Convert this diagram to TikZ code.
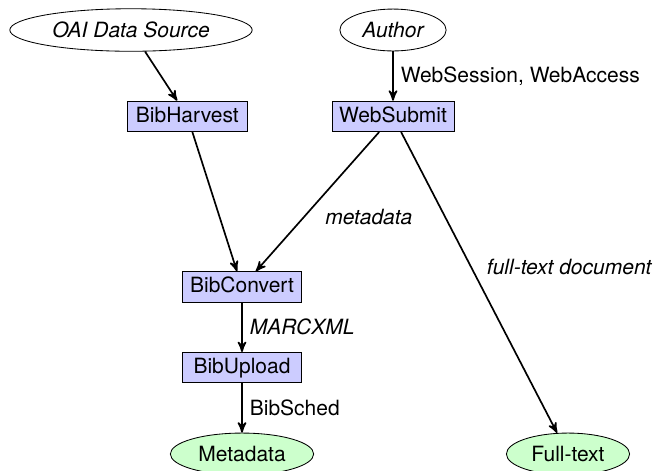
\documentclass[tikz,border=0pt]{standalone}
\usepackage{fontspec}
\setmainfont{TeX Gyre Heros}
\usetikzlibrary{arrows,positioning,shapes.geometric}

\begin{document}
\begin{tikzpicture}[
x=0.4762pt,
y=-0.4762pt,
node distance=23.5pt,
module/.style={
rectangle,
draw,
fill=blue!20,
minimum width=57pt,
inner ysep=2.5pt,
text height=7.5pt,
text depth=2pt
},
source/.style={
ellipse,
draw,
font=\itshape
},
store/.style={
ellipse,
draw,
fill=green!20
},
arrow/.style={
->,
>=stealth',
thick
}
]
\useasboundingbox (0,0) rectangle (659,470);
% Sources
\node[source] (oai-source) at (131,30) {OAI Data Source};
\node[source] (author) at (393,30) {Author};
% Modules
\node[module, below=of author] (websubmit) {WebSubmit};
\node[module, left=40pt of websubmit] (bibharvest) {BibHarvest};
\node[module] (bibconvert) at (242,287) {BibConvert};
\node[module, below=of bibconvert] (bibupload) {BibUpload};
% Stores
\node[store, below=of bibupload] (metadata) {Metadata};
\node[store] (fulltext) at (568,0 |- metadata) {Full-text};

% Connections
\draw[arrow] (oai-source) -- (bibharvest);
\draw[arrow] (author) -- (websubmit) node[midway, right] {WebSession, WebAccess};
\draw[arrow] (bibharvest) -- (bibconvert);
\draw[arrow] (websubmit) -- (bibconvert) node[midway, below right] {\textit{metadata}};
\draw[arrow] (websubmit) -- (fulltext) node[midway, above right] {\textit{full-text document}};
\draw[arrow] (bibconvert) -- (bibupload) node[midway, right] {\textit{MARCXML}};
\draw[arrow] (bibupload) -- (metadata) node[midway, right] {BibSched};
\end{tikzpicture}
\end{document}
